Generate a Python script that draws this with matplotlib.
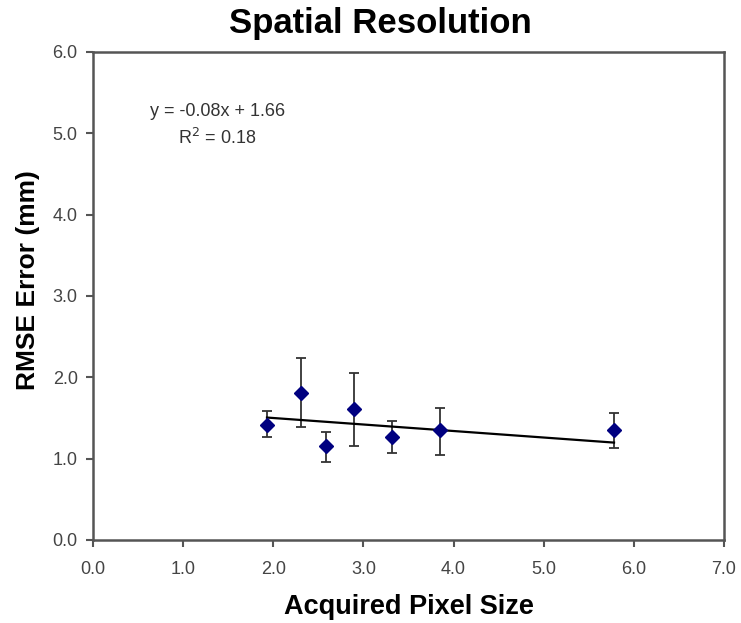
import matplotlib
matplotlib.use("Agg")
import matplotlib.pyplot as plt
import numpy as np

plt.rcParams['font.family'] = ['Liberation Sans', 'DejaVu Sans']

# Acquired pixel size vs. RMSE error
pixel_size = [1.93, 2.31, 2.58, 2.89, 3.32, 3.85, 5.78]
rmse_mm = [1.42, 1.81, 1.15, 1.61, 1.27, 1.35, 1.35]
err_upper = [0.16, 0.43, 0.18, 0.44, 0.19, 0.27, 0.21]
err_lower = [0.15, 0.42, 0.19, 0.46, 0.20, 0.30, 0.22]

# Linear trend line as reported
trend_slope = -0.08
trend_intercept = 1.66
trend_r2 = 0.18

x_ticks = [0.0, 1.0, 2.0, 3.0, 4.0, 5.0, 6.0, 7.0]
y_ticks = [0.0, 1.0, 2.0, 3.0, 4.0, 5.0, 6.0]

fig = plt.figure(figsize=(7.41, 6.23), dpi=100)
ax = fig.add_axes([93 / 741, 1 - 540 / 623, (724 - 93) / 741, (540 - 52) / 623])

ax.errorbar(pixel_size, rmse_mm, yerr=[err_lower, err_upper], fmt='none',
            ecolor='#333333', elinewidth=1.3, capsize=3.3, capthick=1.3, zorder=2)

xs = np.array([min(pixel_size), max(pixel_size)])
ax.plot(xs, trend_slope * xs + trend_intercept, color='black', lw=1.6, zorder=3)

ax.plot(pixel_size, rmse_mm, linestyle='none', marker='D', markersize=7.5,
        color='#000080', markeredgecolor='#000080', zorder=4)

ax.set_xlim(0, 7)
ax.set_ylim(0, 6)
ax.set_xticks(x_ticks)
ax.set_yticks(y_ticks)
ax.set_xticklabels([f"{v:.1f}" for v in x_ticks])
ax.set_yticklabels([f"{v:.1f}" for v in y_ticks])
ax.tick_params(axis='both', direction='out', length=5, width=1.5, color='#555555',
               labelsize=13, labelcolor='#444444')
ax.tick_params(axis='x', pad=10)
ax.tick_params(axis='y', pad=6)

for side in ['left', 'right', 'top', 'bottom']:
    ax.spines[side].set_color('#555555')
    ax.spines[side].set_linewidth(1.8)

ax.text(1.38, 5.27, f"y = {trend_slope:.2f}x + {trend_intercept:.2f}",
        ha='center', va='center', fontsize=13, color='#333333')
ax.text(1.38, 4.94, f"R$^2$ = {trend_r2:.2f}",
        ha='center', va='center', fontsize=13, color='#333333')

ax.set_xlabel("Acquired Pixel Size", fontsize=19.5, fontweight='bold')
ax.xaxis.set_label_coords(0.5, -(607 - 540) / 488)
ax.xaxis.label.set_va('center')
ax.set_ylabel("RMSE Error (mm)", fontsize=19, fontweight='bold')
ax.yaxis.set_label_coords(-(93 - 28) / 631, (540 - 280) / 488)
ax.yaxis.label.set_va('center')
fig.text(380 / 741, 1 - 24 / 623, "Spatial Resolution", ha='center', va='center',
         fontsize=25, fontweight='bold')

fig.savefig("out.png", dpi=100, facecolor='white')
